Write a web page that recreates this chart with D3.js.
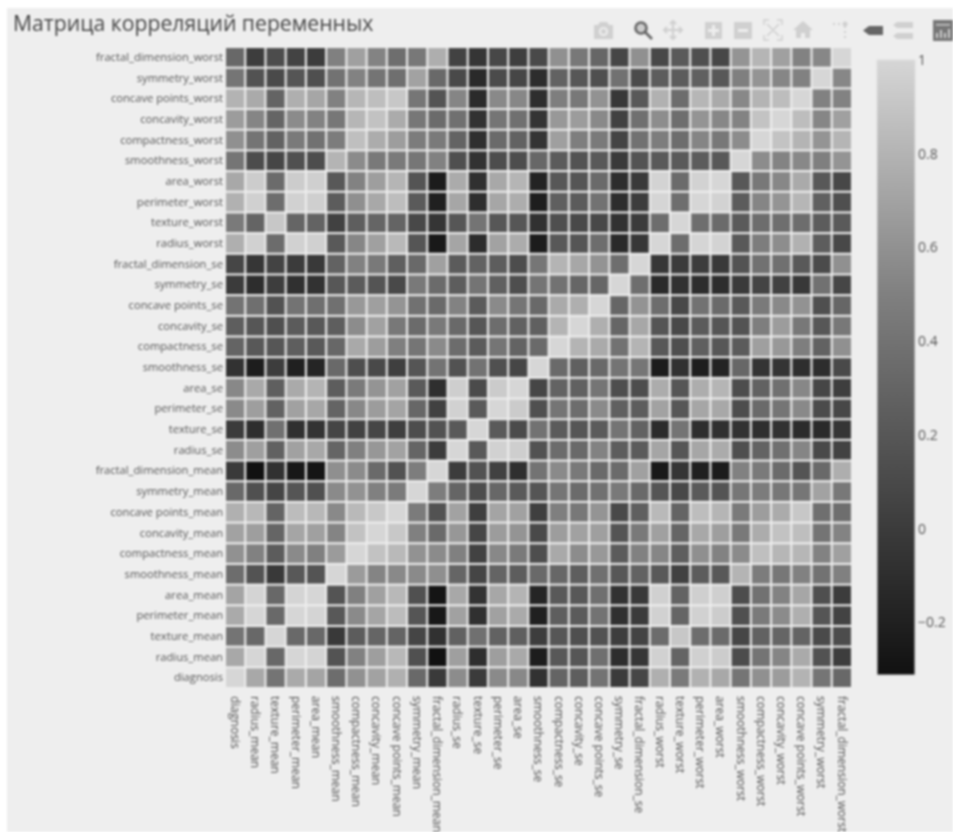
<!DOCTYPE html>
<html>
<head>
<meta charset="utf-8">
<script src="https://d3js.org/d3.v7.min.js"></script>
<style>
    html, body { margin: 0; padding: 0; background: #fff; overflow: hidden; }
    #chart-area svg { display: block; filter: blur(0.8px); }
</style>
</head>
<body>
<div id="chart-area"></div>
<script>
    // variables, same order on both axes (y runs bottom to top)
    const variables = ["diagnosis", "radius_mean", "texture_mean", "perimeter_mean", "area_mean",
        "smoothness_mean", "compactness_mean", "concavity_mean", "concave points_mean", "symmetry_mean",
        "fractal_dimension_mean", "radius_se", "texture_se", "perimeter_se", "area_se", "smoothness_se",
        "compactness_se", "concavity_se", "concave points_se", "symmetry_se", "fractal_dimension_se",
        "radius_worst", "texture_worst", "perimeter_worst", "area_worst", "smoothness_worst",
        "compactness_worst", "concavity_worst", "concave points_worst", "symmetry_worst", "fractal_dimension_worst"]

    const colorbarTicks = [-0.2, 0, 0.2, 0.4, 0.6, 0.8, 1]

    const corrRows = [
        [1,.73,.415,.743,.709,.359,.597,.696,.777,.33,-.013,.567,-.008,.556,.548,-.067,.293,.254,.408,-.007,.078,.776,.457,.783,.734,.421,.591,.66,.794,.416,.324],
        [.73,1,.324,.998,.987,.171,.506,.677,.823,.148,-.312,.679,-.097,.674,.736,-.223,.206,.194,.376,-.104,-.043,.97,.297,.965,.941,.12,.413,.527,.744,.164,.007],
        [.415,.324,1,.33,.321,-.023,.237,.302,.293,.071,-.076,.276,.386,.282,.26,.007,.192,.143,.164,.009,.054,.353,.912,.358,.344,.078,.278,.301,.295,.105,.119],
        [.743,.998,.33,1,.987,.207,.557,.716,.851,.183,-.261,.692,-.087,.693,.745,-.203,.251,.228,.407,-.082,-.006,.969,.303,.97,.942,.151,.456,.564,.771,.189,.051],
        [.709,.987,.321,.987,1,.177,.499,.686,.823,.151,-.283,.733,-.066,.727,.8,-.167,.213,.208,.372,-.072,-.02,.963,.287,.959,.959,.124,.39,.513,.722,.144,.004],
        [.359,.171,-.023,.207,.177,1,.659,.522,.554,.558,.585,.301,.068,.296,.247,.332,.319,.248,.381,.201,.284,.213,.036,.239,.207,.805,.472,.435,.503,.394,.499],
        [.597,.506,.237,.557,.499,.659,1,.883,.831,.603,.565,.497,.046,.549,.456,.135,.739,.571,.642,.23,.507,.535,.248,.59,.51,.566,.866,.816,.816,.51,.687],
        [.696,.677,.302,.716,.686,.522,.883,1,.921,.501,.337,.632,.076,.66,.617,.099,.67,.691,.683,.178,.449,.688,.3,.73,.676,.449,.755,.884,.861,.409,.515],
        [.777,.823,.293,.851,.823,.554,.831,.921,1,.462,.167,.698,.021,.711,.69,.028,.49,.439,.616,.095,.258,.83,.293,.856,.81,.453,.667,.752,.91,.376,.369],
        [.33,.148,.071,.183,.151,.558,.603,.501,.462,1,.48,.303,.128,.314,.224,.187,.422,.343,.393,.449,.332,.186,.091,.219,.177,.427,.473,.434,.43,.7,.438],
        [-.013,-.312,-.076,-.261,-.283,.585,.565,.337,.167,.48,1,0,.164,.04,-.09,.402,.56,.447,.341,.345,.688,-.254,-.051,-.205,-.232,.505,.459,.346,.175,.334,.767],
        [.567,.679,.276,.692,.733,.301,.497,.632,.698,.303,0,1,.213,.973,.952,.165,.356,.332,.514,.241,.228,.715,.195,.721,.752,.142,.287,.381,.531,.095,.05],
        [-.008,-.097,.386,-.087,-.066,.068,.046,.076,.021,.128,.164,.213,1,.223,.112,.397,.232,.195,.23,.412,.28,-.112,.409,-.102,-.083,-.074,-.092,-.069,-.12,-.128,-.046],
        [.556,.674,.282,.693,.727,.296,.549,.66,.711,.314,.04,.973,.223,1,.938,.151,.416,.362,.556,.266,.244,.697,.2,.721,.731,.13,.342,.419,.555,.11,.085],
        [.548,.736,.26,.745,.8,.247,.456,.617,.69,.224,-.09,.952,.112,.938,1,.075,.285,.271,.416,.134,.127,.757,.196,.761,.811,.125,.284,.385,.538,.074,.018],
        [-.067,-.223,.007,-.203,-.167,.332,.135,.099,.028,.187,.402,.165,.397,.151,.075,1,.337,.269,.329,.414,.427,-.231,-.075,-.217,-.182,.314,-.056,-.058,-.102,-.107,.101],
        [.293,.206,.192,.251,.213,.319,.739,.67,.49,.422,.56,.356,.232,.416,.285,.337,1,.801,.744,.395,.803,.205,.143,.261,.2,.227,.679,.639,.483,.278,.591],
        [.254,.194,.143,.228,.208,.248,.571,.691,.439,.343,.447,.332,.195,.362,.271,.269,.801,1,.772,.309,.727,.187,.1,.227,.189,.169,.485,.663,.44,.198,.439],
        [.408,.376,.164,.407,.372,.381,.642,.683,.616,.393,.341,.514,.23,.556,.416,.329,.744,.772,1,.313,.611,.358,.087,.395,.342,.215,.453,.55,.602,.143,.311],
        [-.007,-.104,.009,-.082,-.072,.201,.23,.178,.095,.449,.345,.241,.412,.266,.134,.414,.395,.309,.313,1,.369,-.128,-.077,-.104,-.11,-.013,.06,.037,-.03,.39,.078],
        [.078,-.043,.054,-.006,-.02,.284,.507,.449,.258,.332,.688,.228,.28,.244,.127,.427,.803,.727,.611,.369,1,-.037,-.003,-.001,-.023,.171,.39,.38,.215,.111,.591],
        [.776,.97,.353,.969,.963,.213,.535,.688,.83,.186,-.254,.715,-.112,.697,.757,-.231,.205,.187,.358,-.128,-.037,1,.36,.994,.984,.217,.476,.574,.787,.244,.093],
        [.457,.297,.912,.303,.287,.036,.248,.3,.293,.091,-.051,.195,.409,.2,.196,-.075,.143,.1,.087,-.077,-.003,.36,1,.366,.346,.225,.361,.368,.36,.233,.219],
        [.783,.965,.358,.97,.959,.239,.59,.73,.856,.219,-.205,.721,-.102,.721,.761,-.217,.261,.227,.395,-.104,-.001,.994,.366,1,.978,.237,.529,.618,.816,.269,.139],
        [.734,.941,.344,.942,.959,.207,.51,.676,.81,.177,-.232,.752,-.083,.731,.811,-.182,.2,.189,.342,-.11,-.023,.984,.346,.978,1,.209,.438,.543,.747,.209,.08],
        [.421,.12,.078,.151,.124,.805,.566,.449,.453,.427,.505,.142,-.074,.13,.125,.314,.227,.169,.215,-.013,.171,.217,.225,.237,.209,1,.568,.518,.548,.494,.618],
        [.591,.413,.278,.456,.39,.472,.866,.755,.667,.473,.459,.287,-.092,.342,.284,-.056,.679,.485,.453,.06,.39,.476,.361,.529,.438,.568,1,.892,.801,.614,.81],
        [.66,.527,.301,.564,.513,.435,.816,.884,.752,.434,.346,.381,-.069,.419,.385,-.058,.639,.663,.55,.037,.38,.574,.368,.618,.543,.518,.892,1,.855,.533,.686],
        [.794,.744,.295,.771,.722,.503,.816,.861,.91,.43,.175,.531,-.12,.555,.538,-.102,.483,.44,.602,-.03,.215,.787,.36,.816,.747,.548,.801,.855,1,.503,.511],
        [.416,.164,.105,.189,.144,.394,.51,.409,.376,.7,.334,.095,-.128,.11,.074,-.107,.278,.198,.143,.39,.111,.244,.233,.269,.209,.494,.614,.533,.503,1,.538],
        [.324,.007,.119,.051,.004,.499,.687,.515,.369,.438,.767,.05,-.046,.085,.018,.101,.591,.439,.311,.078,.591,.093,.219,.139,.08,.618,.81,.686,.511,.538,1]
    ]

    const svgWidth = 953
    const svgHeight = 832
    const plot = { left: 225, right: 852, top: 47, bottom: 688 }
    const bar = { left: 877, right: 915, top: 60, bottom: 675 }
    const zMin = -0.312

    const svg = d3.select("#chart-area")
        .append("svg")
        .attr("width", svgWidth)
        .attr("height", svgHeight)
        .style("font-family", "'Open Sans', sans-serif")

    svg.append("rect")
        .attr("x", 7)
        .attr("y", 8)
        .attr("width", svgWidth)
        .attr("height", svgHeight)
        .attr("fill", "#eeeeee")

    svg.append("text")
        .attr("x", 13)
        .attr("y", 31)
        .attr("font-size", 21.2)
        .attr("fill", "#444")
        .text("Матрица корреляций переменных")

    const xScale = d3.scaleBand()
        .domain(variables)
        .range([plot.left, plot.right])
        .paddingInner(0.1)
        .paddingOuter(0.05)

    const yScale = d3.scaleBand()
        .domain(variables.slice().reverse())
        .range([plot.top, plot.bottom])
        .paddingInner(0.1)
        .paddingOuter(0.05)

    const colorScale = d3.scaleLinear()
        .domain([zMin, 0.5, 1])
        .range(["#111111", "#808080", "#d6d6d6"])

    const cells = corrRows.flatMap((row, i) => row.map((z, j) => ({ x: variables[j], y: variables[i], z })))

    svg.append("g")
        .selectAll("rect")
        .data(cells)
        .join("rect")
        .attr("x", d => xScale(d.x))
        .attr("y", d => yScale(d.y))
        .attr("width", xScale.bandwidth())
        .attr("height", yScale.bandwidth())
        .attr("fill", d => colorScale(d.z))

    // axes: labels only, no lines
    const yAxis = svg.append("g")
        .attr("transform", `translate(${plot.left},0)`)
        .call(d3.axisLeft(yScale).tickSize(0).tickPadding(2))
    yAxis.select(".domain").remove()
    yAxis.selectAll("text")
        .attr("font-family", "'Open Sans', sans-serif")
        .attr("font-size", 11.2)
        .attr("fill", "#555")

    const xAxis = svg.append("g")
        .attr("transform", `translate(0,${plot.bottom})`)
        .call(d3.axisBottom(xScale).tickSize(0))
    xAxis.select(".domain").remove()
    xAxis.selectAll("text")
        .attr("font-family", "'Open Sans', sans-serif")
        .attr("font-size", 12)
        .attr("fill", "#555")
        .attr("text-anchor", "start")
        .attr("transform", "rotate(90)")
        .attr("x", 8)
        .attr("y", 0)
        .attr("dy", "0.35em")

    // colorbar
    const barScale = d3.scaleLinear()
        .domain([zMin, 1])
        .range([bar.bottom, bar.top])

    const gradient = svg.append("defs")
        .append("linearGradient")
        .attr("id", "bar-gradient")
        .attr("x1", 0).attr("x2", 0)
        .attr("y1", 1).attr("y2", 0)
    gradient.selectAll("stop")
        .data(colorScale.domain())
        .join("stop")
        .attr("offset", d => (d - zMin) / (1 - zMin))
        .attr("stop-color", d => colorScale(d))

    svg.append("rect")
        .attr("x", bar.left)
        .attr("y", bar.top)
        .attr("width", bar.right - bar.left)
        .attr("height", bar.bottom - bar.top)
        .attr("fill", "url(#bar-gradient)")
        .attr("stroke", "#ddd")

    const barAxis = svg.append("g")
        .attr("transform", `translate(${bar.right},0)`)
        .call(d3.axisRight(barScale).tickValues(colorbarTicks).tickFormat(d3.format("~g")).tickSize(0).tickPadding(3))
    barAxis.select(".domain").remove()
    barAxis.selectAll("text")
        .attr("font-family", "'Open Sans', sans-serif")
        .attr("font-size", 14)
        .attr("fill", "#555")

    // modebar icons
    const iconGrey = "#d0d0d0"
    const modebar = svg.append("g").attr("fill", iconGrey)

    // camera
    modebar.append("path")
        .attr("fill-rule", "evenodd")
        .attr("d", "M594 25h4l2-3h7l2 3h4v14h-19zM603.5 27a4.5 4.5 0 1 0 .01 0zM603.5 29a2.5 2.5 0 1 1-.01 0z")
    // zoom, active
    modebar.append("circle").attr("cx", 641).attr("cy", 28).attr("r", 5.5)
        .attr("fill", "#ccc").attr("stroke", "#666").attr("stroke-width", 2.6)
    modebar.append("line").attr("x1", 645).attr("y1", 32).attr("x2", 652).attr("y2", 39)
        .attr("stroke", "#666").attr("stroke-width", 2.6)
    // pan
    modebar.append("path")
        .attr("fill", "none").attr("stroke", iconGrey).attr("stroke-width", 2)
        .attr("d", "M673 21v18M664 30h18M670 24l3-3 3 3M670 36l3 3 3-3M667 27l-3 3 3 3M679 27l3 3-3 3")
    // zoom in / zoom out
    modebar.append("path")
        .attr("fill-rule", "evenodd")
        .attr("d", "M705 22h17v17h-17zM712 25v4h-4v3h4v4h3v-4h4v-3h-4v-4z")
    modebar.append("path")
        .attr("fill-rule", "evenodd")
        .attr("d", "M734 22h18v17h-18zM738 29v3h10v-3z")
    // autoscale
    modebar.append("path")
        .attr("fill", "none").attr("stroke", iconGrey).attr("stroke-width", 1.5)
        .attr("d", "M764 25v-5h5M777 20h5v5M782 35v5h-5M769 40h-5v-5M767 24l12 12M779 24l-12 12")
    // home
    modebar.append("path")
        .attr("d", "M803 21l10 9h-3v8h-5v-5h-4v5h-5v-8h-3z")
    // spikes
    modebar.append("path")
        .attr("fill", "none").attr("stroke", iconGrey).attr("stroke-width", 2).attr("stroke-dasharray", "2 3")
        .attr("d", "M833 24h12M845 26v13")
    modebar.append("circle").attr("cx", 845).attr("cy", 24).attr("r", 2.5)
    // hover closest
    modebar.append("path")
        .attr("fill", "#666")
        .attr("d", "M863 30.5l6-4.5h14v9h-14z")
    // hover compare
    modebar.append("path")
        .attr("d", "M897 22h16v6h-16l-4-3zM897 33h16v6h-16l-4-3z")
    // logo box
    modebar.append("rect").attr("x", 933).attr("y", 20).attr("width", 20).attr("height", 21).attr("fill", "#777")
    modebar.append("path")
        .attr("fill", "#ccc")
        .attr("d", "M936 33h2v5h-2zM940 30h2v8h-2zM944 33h2v5h-2zM948 29h2v9h-2zM936 24h14v1.5h-14z")
</script>
</body>
</html>
